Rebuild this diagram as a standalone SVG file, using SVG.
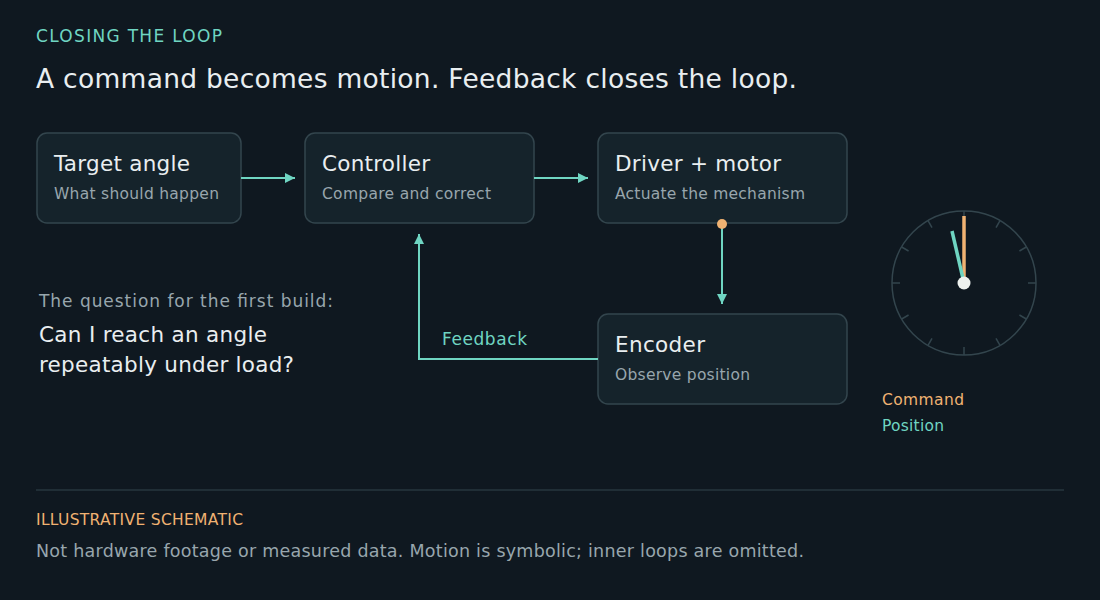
<svg xmlns="http://www.w3.org/2000/svg" width="1100" height="600" viewBox="0 0 1100 600">
<defs>
<style>
text{font-family:"DejaVu Sans",Verdana,sans-serif}
.box{fill:#15232b;stroke:#33454d;stroke-width:1.5}
.t{fill:#e9eef0;font-size:21.5px}
.s{fill:#98a6ad;font-size:15.5px}
.c{stroke:#6fd5c2;stroke-width:2;fill:none}
.tick{stroke:#33454d;stroke-width:1.5}
</style>
<marker id="a" viewBox="0 0 10 10" refX="10" refY="5" markerWidth="10" markerHeight="10" markerUnits="userSpaceOnUse" orient="auto"><path d="M0,0L10,5L0,10z" fill="#6fd5c2"/></marker>
</defs>
<rect width="1100" height="600" fill="#0f1820"/>
<text x="36" y="42" fill="#6fd5c2" font-size="17" textLength="186">CLOSING THE LOOP</text>
<text x="36" y="88" fill="#e9eef0" font-size="26.5" textLength="761">A command becomes motion. Feedback closes the loop.</text>
<g id="target"><rect class="box" x="37" y="133" width="204" height="90" rx="10"/><text class="t" x="54" y="171" textLength="136">Target angle</text><text class="s" x="54" y="199" textLength="165">What should happen</text></g>
<g id="controller"><rect class="box" x="305" y="133" width="229" height="90" rx="10"/><text class="t" x="322" y="171" textLength="108">Controller</text><text class="s" x="322" y="199" textLength="169">Compare and correct</text></g>
<g id="driver"><rect class="box" x="598" y="133" width="249" height="90" rx="10"/><text class="t" x="615" y="171" textLength="166">Driver + motor</text><text class="s" x="615" y="199" textLength="190">Actuate the mechanism</text></g>
<g id="encoder"><rect class="box" x="598" y="314" width="249" height="90" rx="10"/><text class="t" x="615" y="352" textLength="90">Encoder</text><text class="s" x="615" y="380" textLength="135">Observe position</text></g>
<g id="connectors">
<line class="c" x1="241" y1="178" x2="295" y2="178" marker-end="url(#a)"/>
<line class="c" x1="534" y1="178" x2="588" y2="178" marker-end="url(#a)"/>
<line class="c" x1="722" y1="224" x2="722" y2="304" marker-end="url(#a)"/>
<circle cx="722" cy="224" r="5" fill="#f0b272"/>
<polyline class="c" points="598,359 419,359 419,234" marker-end="url(#a)"/>
<text x="442" y="345" fill="#6fd5c2" font-size="17" textLength="85">Feedback</text>
</g>
<text x="39" y="307" fill="#98a6ad" font-size="17" textLength="294">The question for the first build:</text>
<text x="39" y="342" fill="#e9eef0" font-size="21.5" textLength="228">Can I reach an angle</text>
<text x="39" y="372" fill="#e9eef0" font-size="21.5" textLength="255">repeatably under load?</text>
<g id="gauge">
<circle cx="964" cy="283" r="72" fill="none" stroke="#33454d" stroke-width="1.5"/>
<g transform="translate(964,283)">
<line class="tick" x1="0" y1="-72" x2="0" y2="-64"/>
<line class="tick" x1="0" y1="-72" x2="0" y2="-64" transform="rotate(30)"/>
<line class="tick" x1="0" y1="-72" x2="0" y2="-64" transform="rotate(60)"/>
<line class="tick" x1="0" y1="-72" x2="0" y2="-64" transform="rotate(90)"/>
<line class="tick" x1="0" y1="-72" x2="0" y2="-64" transform="rotate(120)"/>
<line class="tick" x1="0" y1="-72" x2="0" y2="-64" transform="rotate(150)"/>
<line class="tick" x1="0" y1="-72" x2="0" y2="-64" transform="rotate(180)"/>
<line class="tick" x1="0" y1="-72" x2="0" y2="-64" transform="rotate(210)"/>
<line class="tick" x1="0" y1="-72" x2="0" y2="-64" transform="rotate(240)"/>
<line class="tick" x1="0" y1="-72" x2="0" y2="-64" transform="rotate(270)"/>
<line class="tick" x1="0" y1="-72" x2="0" y2="-64" transform="rotate(300)"/>
<line class="tick" x1="0" y1="-72" x2="0" y2="-64" transform="rotate(330)"/>
<line x1="0" y1="0" x2="0" y2="-67" stroke="#f0b272" stroke-width="3.5"/>
<line x1="0" y1="0" x2="-12" y2="-52" stroke="#6fd5c2" stroke-width="3.5"/>
<circle r="6.5" fill="#eef2ef"/>
</g>
</g>
<text x="882" y="405" fill="#f0b272" font-size="15.5" textLength="82">Command</text>
<text x="882" y="431" fill="#6fd5c2" font-size="15.5" textLength="62">Position</text>
<line x1="36" y1="490" x2="1064" y2="490" stroke="#33454d" stroke-width="1"/>
<text x="36" y="525" fill="#f0b272" font-size="15.5" textLength="207">ILLUSTRATIVE SCHEMATIC</text>
<text x="36" y="557" fill="#98a6ad" font-size="17.5" textLength="768">Not hardware footage or measured data. Motion is symbolic; inner loops are omitted.</text>
</svg>
